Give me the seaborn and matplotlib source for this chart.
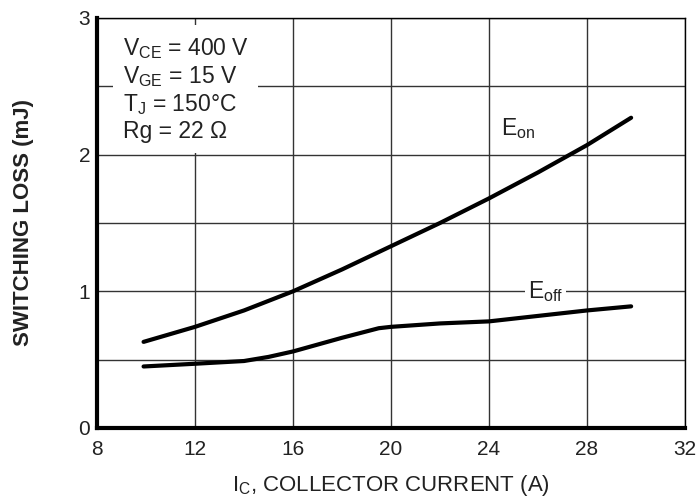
import matplotlib
matplotlib.use("Agg")
import matplotlib.pyplot as plt
import seaborn as sns
import pandas as pd

# values
ic_on = [9.9, 12, 14, 16, 18, 20, 22, 24, 26, 28, 29.8]
e_on = [0.63, 0.74, 0.86, 1.00, 1.16, 1.33, 1.50, 1.68, 1.87, 2.07, 2.27]
ic_off = [9.9, 12, 14, 15, 16, 18, 19.5, 20, 22, 24, 26, 28, 29.8]
e_off = [0.45, 0.47, 0.49, 0.52, 0.56, 0.66, 0.73, 0.74, 0.765, 0.78, 0.82, 0.86, 0.89]
x_ticks = [8, 12, 16, 20, 24, 28, 32]
y_ticks = [0, 1, 2, 3]
conditions = [r"V$_{\rm CE}$ = 400 V", r"V$_{\rm GE}$ = 15 V",
              r"T$_{\rm J}$ = 150°C", r"Rg = 22 Ω"]

df = pd.concat([
    pd.DataFrame({"ic": ic_on, "loss": e_on, "curve": "Eon"}),
    pd.DataFrame({"ic": ic_off, "loss": e_off, "curve": "Eoff"}),
])

sns.set_theme(style="white")
plt.rcParams["font.family"] = ["Liberation Sans", "DejaVu Sans"]
plt.rcParams["mathtext.fontset"] = "custom"
plt.rcParams["mathtext.rm"] = "Liberation Sans"

fig = plt.figure(figsize=(7, 4.98), dpi=100)
ax = fig.add_axes([0.1386, 0.1406, 0.84, 0.8233])

sns.lineplot(data=df, x="ic", y="loss", units="curve", estimator=None,
             color="black", linewidth=3, ax=ax, sort=False)

ax.set_xlim(8, 32)
ax.set_ylim(0, 3)
ax.set_xticks(x_ticks)
ax.set_yticks(y_ticks)
ax.set_yticks([0.5, 1.5, 2.5], minor=True)
ax.grid(True, which="both", color="#333333", linewidth=1)
ax.tick_params(length=0, labelsize=15, colors="#222222")
ax.tick_params(axis="x", pad=9)
ax.tick_params(axis="y", pad=5)
ax.set_axisbelow(True)

for side in ["left", "bottom"]:
    ax.spines[side].set_linewidth(3)
for side in ["top", "right"]:
    ax.spines[side].set_linewidth(1)
for sp in ax.spines.values():
    sp.set_color("black")
    sp.set_visible(True)

ax.set_xlabel(r"I$_{\rm C}$, COLLECTOR CURRENT (A)", fontsize=16, color="#222222", labelpad=10)
ax.set_ylabel("SWITCHING LOSS (mJ)", fontsize=16, fontweight="bold", color="#222222", labelpad=32)

ax.text(9.05, 2.87, "\n".join(conditions), fontsize=16.5, color="#222222", va="top",
        linespacing=1.17,
        bbox=dict(facecolor="white", edgecolor="none", pad=7))
ax.text(24.5, 2.19, r"E$_{\rm on}$", fontsize=16.5, color="#222222", va="center",
        bbox=dict(facecolor="white", edgecolor="none", pad=2))
ax.text(25.6, 1.0, r"E$_{\rm off}$", fontsize=16.5, color="#222222", va="center",
        bbox=dict(facecolor="white", edgecolor="none", pad=2))

fig.savefig("out.png", dpi=100)
